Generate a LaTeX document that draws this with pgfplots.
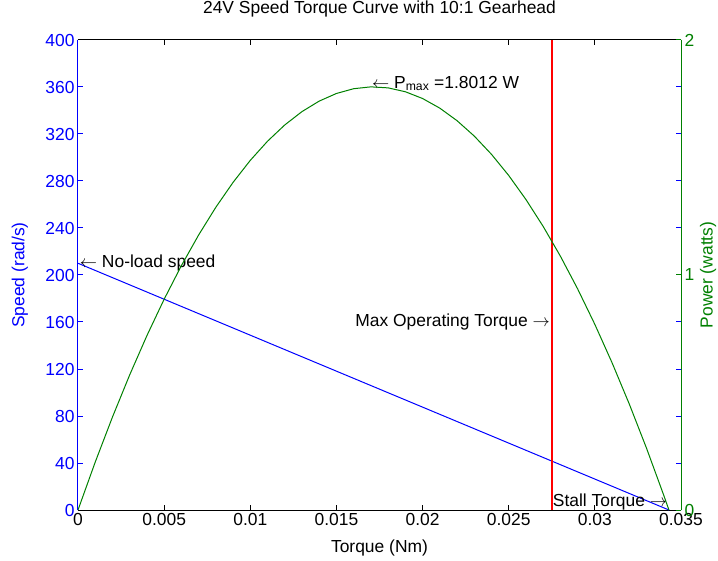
\documentclass[border=0pt]{standalone}
\usepackage{fontspec}
\setmainfont{Liberation Sans}
\usepackage{pgfplots}
\pgfplotsset{compat=1.18}
\definecolor{mblue}{RGB}{0,0,255}
\definecolor{mgreen}{RGB}{0,128,0}
\definecolor{mred}{RGB}{255,0,0}
\newcommand{\ff}{\fontsize{17.5}{20}\selectfont}

\pgfplotsset{
  mat/.style={
    scale only axis, width=603bp, height=470bp,
    at={(0,0)}, anchor=south west,
    xmin=0, xmax=0.035,
    scaled x ticks=false, scaled y ticks=false,
    tick align=inside, major tick length=5bp,
    tick label style={font=\ff},
    label style={font=\ff},
    every axis plot/.append style={line width=1bp},
    every tick/.append style={line width=1bp},
    axis line style={line width=1bp},
  }
}

% power curve (W) against torque (Nm)
\pgfplotstableread{
T P
0 0
0.001 0.2039
0.002 0.3955
0.003 0.5749
0.004 0.7420
0.005 0.8969
0.006 1.0396
0.007 1.1700
0.008 1.2882
0.009 1.3941
0.010 1.4878
0.011 1.5692
0.012 1.6384
0.013 1.6953
0.014 1.7400
0.015 1.7724
0.016 1.7927
0.017 1.8006
0.018 1.7963
0.019 1.7798
0.020 1.7510
0.021 1.7100
0.022 1.6567
0.023 1.5912
0.024 1.5135
0.025 1.4235
0.026 1.3212
0.027 1.2067
0.028 1.0800
0.029 0.9410
0.030 0.7898
0.031 0.6263
0.032 0.4506
0.033 0.2627
0.034 0.0624
0.0343 0
}\powertab

% max operating torque marker
\pgfplotstableread{
T S
0.0275 0
0.0275 400
}\redtab

\begin{document}
\begin{tikzpicture}[font=\ff]
\begin{axis}[mat,
  ymin=0, ymax=400,
  separate axis lines,
  x axis line style={black},
  y axis line style={mblue},
  xtick={0,0.005,0.01,0.015,0.02,0.025,0.03,0.035},
  xticklabels={0,0.005,0.01,0.015,0.02,0.025,0.03,0.035},
  ytick={0,40,80,120,160,200,240,280,320,360,400},
  yticklabels={0,40,80,120,160,200,240,280,320,360,400},
  xtick style={black}, ytick style={mblue},
  yticklabel style={mblue},
  xlabel={Torque (Nm)},
  xlabel style={at={(axis description cs:0.5,-0.081)}, anchor=center},
  ylabel={Speed (rad/s)},
  ylabel style={mblue, at={(axis description cs:-0.0962,0.5)}, anchor=center},
  title={24V Speed Torque Curve with 10:1 Gearhead},
  title style={font=\ff, at={(axis description cs:0.5,1.053)}, anchor=center},
]
\addplot[color=mblue, no marks] coordinates {(0,210) (0.0343,0)};
\addplot[mred, no marks, line width=2bp] table[x=T, y=S] {\redtab};
\node[anchor=west, inner sep=0pt] at (axis cs:0.0001,210) {$\leftarrow$ No-load speed};
\node[anchor=west, inner sep=0pt] at (axis cs:0.01706,363) {$\leftarrow$ P\textsubscript{max} =1.8012 W};
\node[anchor=east, inner sep=0pt] at (axis cs:0.0274,160) {Max Operating Torque $\rightarrow$};
\node[anchor=east, inner sep=0pt] at (axis cs:0.0342,7) {Stall Torque $\rightarrow$};
\end{axis}
\begin{axis}[mat,
  ymin=0, ymax=2,
  axis x line=none, axis y line*=right,
  ytick={0,1,2}, yticklabels={0,1,2},
  y axis line style={mgreen}, ytick style={mgreen},
  yticklabel style={mgreen},
  ylabel={Power (watts)},
  ylabel style={mgreen, at={(axis description cs:1.0448,0.5)}, anchor=center},
]
\addplot[color=mgreen, no marks] table[x=T, y=P] {\powertab};
\end{axis}
\pgfresetboundingbox
\path (-78bp,-51bp) rectangle (640bp,510bp);
\end{tikzpicture}
\end{document}
